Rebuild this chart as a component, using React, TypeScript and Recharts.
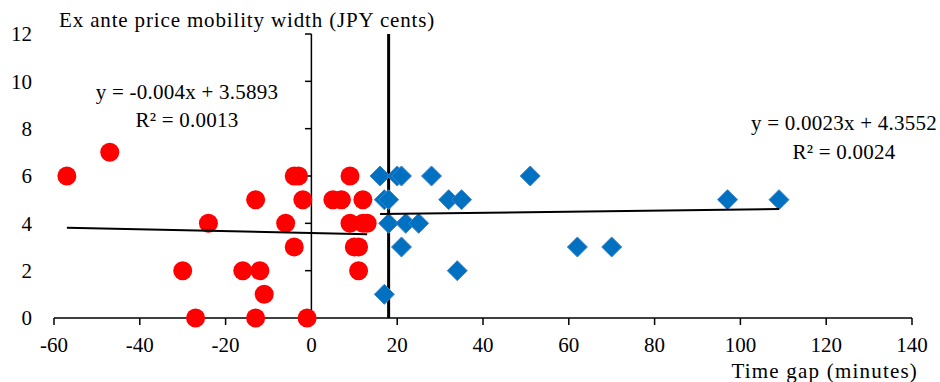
import { ScatterChart, Scatter, XAxis, YAxis, ReferenceLine } from 'recharts'

const FONT = '"Liberation Serif", "Times New Roman", serif'

// tick labels
const xTicks = [-60, -40, -20, 0, 20, 40, 60, 80, 100, 120, 140]
const yTicks = [0, 2, 4, 6, 8, 10, 12]

// announcements before the cutoff (red circles)
const earlyGap = [-57, -47, -13, -4, -3, -2, 5, 7, 9, 12, -24, -6, 9, 12, 13, -4, 10, 11, -30, -16, -12, 11, -11, -27, -13, -1]
const earlyWidth = [6, 7, 5, 6, 6, 5, 5, 5, 6, 5, 4, 4, 4, 4, 4, 3, 3, 3, 2, 2, 2, 2, 1, 0, 0, 0]

// announcements after the cutoff (blue diamonds)
const lateGap = [16, 20, 21, 28, 51, 17, 18, 32, 35, 97, 109, 18, 22, 25, 21, 62, 70, 34, 17]
const lateWidth = [6, 6, 6, 6, 6, 5, 5, 5, 5, 5, 5, 4, 4, 4, 3, 3, 3, 2, 1]

// fitted lines as printed on the chart
const earlyFit = { slope: -0.004, intercept: 3.5893, eq: 'y = -0.004x + 3.5893', r2: 'R² = 0.0013' }
const lateFit = { slope: 0.0023, intercept: 4.3552, eq: 'y = 0.0023x + 4.3552', r2: 'R² = 0.0024' }

const cutoffGap = 18

const toPoints = (xs: number[], ys: number[]) => xs.map((x, i) => ({ x, y: ys[i] }))

const fitLine = (xs: number[], fit: { slope: number; intercept: number }) => {
  const lo = Math.min(...xs)
  const hi = Math.max(...xs)
  return [
    { x: lo, y: fit.slope * lo + fit.intercept },
    { x: hi, y: fit.slope * hi + fit.intercept },
  ]
}

const earlyData = toPoints(earlyGap, earlyWidth)
const lateData = toPoints(lateGap, lateWidth)

const Dot = (p: any) => <circle cx={p.cx} cy={p.cy} r={9.5} fill="#FF0000" />

const Diamond = (p: any) => {
  const r = 10
  return (
    <polygon
      points={`${p.cx},${p.cy - r} ${p.cx + r},${p.cy} ${p.cx},${p.cy + r} ${p.cx - r},${p.cy}`}
      fill="#0070C0"
      stroke="#3F83C8"
      strokeWidth={1}
    />
  )
}

const Nothing = () => <g />

const label = (
  text: string,
  left: number,
  top: number,
  align: 'left' | 'center' | 'right' = 'center',
  spacing = 0.25,
) => {
  const w = 400
  const x = align === 'left' ? left : align === 'right' ? left - w : left - w / 2
  return (
    <div
      style={{
        position: 'absolute',
        left: x,
        top: top - 10,
        width: w,
        lineHeight: '20px',
        fontSize: 21,
        letterSpacing: spacing,
        textAlign: align,
        color: '#000',
        whiteSpace: 'nowrap',
      }}
    >
      {text}
    </div>
  )
}

export default function App() {
  const tickStyle = { fill: '#000', fontSize: 21, fontFamily: FONT }
  return (
    <div style={{ position: 'absolute', left: 0, top: 0, width: 940, height: 382, background: '#fff', fontFamily: FONT }}>
      <ScatterChart width={940} height={382} margin={{ top: 34, right: 28, bottom: 0, left: 0 }}>
        <XAxis
          type="number"
          dataKey="x"
          domain={[-60, 140]}
          ticks={xTicks}
          interval={0}
          height={64}
          axisLine={{ stroke: '#000', strokeWidth: 1.5 }}
          tickLine={{ stroke: '#000', strokeWidth: 1.5 }}
          tickSize={7}
          tickMargin={12}
          tick={tickStyle}
        />
        <YAxis
          type="number"
          dataKey="y"
          domain={[0, 12]}
          ticks={yTicks}
          interval={0}
          width={54}
          axisLine={false}
          tickLine={false}
          tickMargin={16}
          tick={tickStyle}
        />
        <ReferenceLine x={0} stroke="#000" strokeWidth={1.5} />
        {yTicks.filter((t) => t > 0).map((t) => (
          <ReferenceLine
            key={t}
            segment={[{ x: -1.5, y: t }, { x: 0, y: t }]}
            stroke="#000"
            strokeWidth={1.5}
          />
        ))}
        <ReferenceLine x={cutoffGap} stroke="#000" strokeWidth={3} />
        <Scatter data={earlyData} shape={Dot} isAnimationActive={false} />
        <Scatter data={lateData} shape={Diamond} isAnimationActive={false} />
        <Scatter
          data={fitLine(earlyGap, earlyFit)}
          shape={Nothing}
          line={{ stroke: '#000', strokeWidth: 2 }}
          isAnimationActive={false}
        />
        <Scatter
          data={fitLine(lateGap, lateFit)}
          shape={Nothing}
          line={{ stroke: '#000', strokeWidth: 2 }}
          isAnimationActive={false}
        />
      </ScatterChart>
      {label('Ex ante price mobility width (JPY cents)', 59, 20, 'left', 0.85)}
      {label(earlyFit.eq, 187, 92)}
      {label(earlyFit.r2, 187, 120)}
      {label(lateFit.eq, 844, 123)}
      {label(lateFit.r2, 844, 152)}
      {label('Time gap (minutes)', 918, 371, 'right', 1.2)}
    </div>
  )
}
